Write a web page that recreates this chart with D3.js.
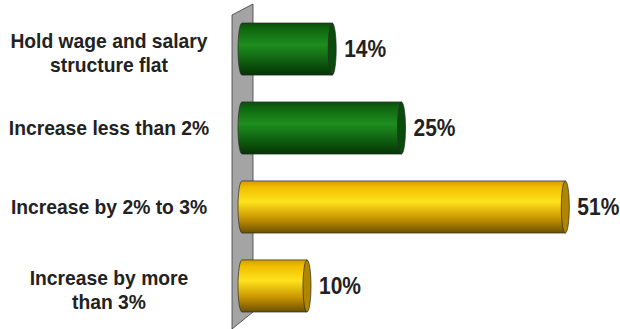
<!DOCTYPE html>
<html>
<head>
<meta charset="utf-8">
<script src="https://cdn.jsdelivr.net/npm/d3@7/dist/d3.min.js"></script>
<style>
  html, body { margin: 0; padding: 0; background: #fff; }
  svg { display: block; }
</style>
</head>
<body>
<svg id="chart" width="620" height="329"></svg>
<script>
// Survey answers: planned change to the wage and salary structure
const categories = [
  "Hold wage and salary\nstructure flat",
  "Increase less than 2%",
  "Increase by 2% to 3%",
  "Increase by more\nthan 3%"
];
const values = [14, 25, 51, 10];
const valueLabels = ["14%", "25%", "51%", "10%"];

const W = 620, H = 329;
const svg = d3.select("#chart");
const defs = svg.append("defs");

const x = d3.scaleLinear().domain([0, 60]).range([244, 622]);
const y = d3.scaleBand().domain(categories).range([23, 312])
  .paddingInner(0.34).paddingOuter(0);

// Two cylinder palettes: green for the first two answers, gold for the rest
const palettes = {
  green: { stops: [["0%", "#0b4f0b"], ["12%", "#0f6810"], ["42%", "#1e8d1f"], ["75%", "#0e5c0f"], ["100%", "#053305"]], cap: "#0a4a0b" },
  gold:  { stops: [["0%", "#d39a00"], ["12%", "#f0be00"], ["40%", "#ffe21c"], ["72%", "#c89400"], ["100%", "#6b5000"]], cap: "#b08500" }
};
const colorOf = d3.scaleOrdinal().domain(categories).range(["green", "green", "gold", "gold"]);

Object.entries(palettes).forEach(([name, p]) => {
  const g = defs.append("linearGradient").attr("id", "grad-" + name)
    .attr("x1", 0).attr("y1", 0).attr("x2", 0).attr("y2", 1);
  p.stops.forEach(([o, c]) => g.append("stop").attr("offset", o).attr("stop-color", c));
});

// Back wall of the 3D frame
svg.append("path")
  .attr("d", "M232,15 L253,4 L253,312 L232,329 Z")
  .attr("fill", "#a4a4a4")
  .attr("stroke", "#3c3c3c")
  .attr("stroke-width", 0.8);

const capRx = 4;
const bars = svg.selectAll("g.bar").data(categories).enter().append("g").attr("class", "bar");

bars.append("path")
  .attr("d", (c, i) => {
    const top = y(c), bot = top + y.bandwidth(), ry = y.bandwidth() / 2;
    const lx = x(0) - 2, rx = x(values[i]);
    return `M${lx},${top} L${rx},${top} L${rx},${bot} L${lx},${bot} A${capRx},${ry} 0 0 1 ${lx},${top} Z`;
  })
  .attr("fill", c => `url(#grad-${colorOf(c)})`)
  .attr("stroke", "#2a2a2a")
  .attr("stroke-width", 0.7);

bars.append("ellipse")
  .attr("cx", (c, i) => x(values[i]))
  .attr("cy", c => y(c) + y.bandwidth() / 2)
  .attr("rx", capRx)
  .attr("ry", y.bandwidth() / 2)
  .attr("fill", c => palettes[colorOf(c)].cap)
  .attr("stroke", "#2a2a2a")
  .attr("stroke-width", 0.7);

// Value labels at the end of each cylinder (slightly tall lettering)
const vfs = 21, vStretch = 1.18;
svg.selectAll("text.val").data(categories).enter().append("text")
  .attr("class", "val")
  .attr("transform", (c, i) => {
    const tx = x(values[i]) + 12;
    const ty = y(c) + y.bandwidth() / 2 + vfs * 0.716 * vStretch / 2 - 0.5;
    return `translate(${tx},${ty}) scale(1,${vStretch})`;
  })
  .attr("font-family", "Liberation Sans, Arial, sans-serif")
  .attr("font-weight", "bold")
  .attr("font-size", vfs)
  .attr("fill", "#222")
  .text((c, i) => valueLabels[i]);

// Category labels, centred to the left of the wall
const cfs = 19.3, lh = 23.5;
categories.forEach(c => {
  const lines = c.split("\n");
  const mid = y(c) + y.bandwidth() / 2 + (lines.length > 1 ? 4 : 0);
  const t = svg.append("text")
    .attr("text-anchor", "middle")
    .attr("font-family", "Liberation Sans, Arial, sans-serif")
    .attr("font-weight", "bold")
    .attr("font-size", cfs)
    .attr("fill", "#222");
  lines.forEach((ln, k) => {
    t.append("tspan")
      .attr("x", 109)
      .attr("y", mid - (lines.length - 1) * lh / 2 + k * lh + cfs * 0.36)
      .text(ln);
  });
});
</script>
</body>
</html>
